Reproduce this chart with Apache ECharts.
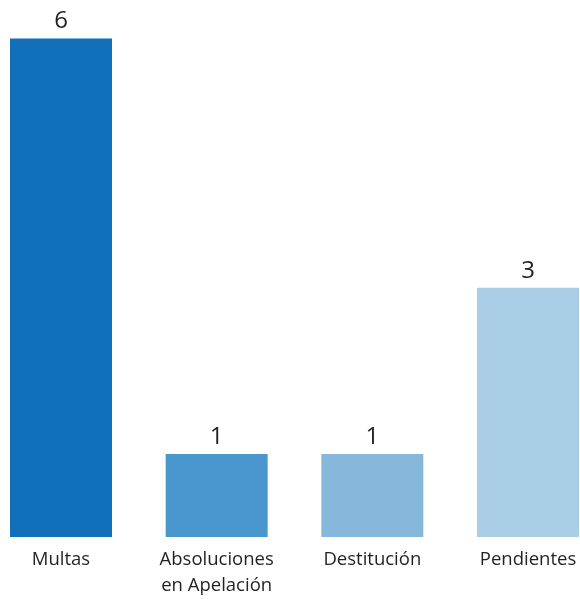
<!DOCTYPE html>
<html>
<head>
<meta charset="utf-8">
<script src="https://cdn.jsdelivr.net/npm/echarts@6/dist/echarts.min.js"></script>
<style>
  html, body { margin: 0; padding: 0; background: #ffffff; }
  #chart { width: 580px; height: 599px; }
</style>
</head>
<body>
<div id="chart"></div>
<script>
// Resolution outcomes
const categories = ['Multas', 'Absoluciones\nen Apelación', 'Destitución', 'Pendientes'];
const counts = [6, 1, 1, 3];
const barColors = ['#1170b9', '#4a96cf', '#86b8dc', '#aacee6'];

const chart = echarts.init(document.getElementById('chart'));
chart.setOption({
  animation: false,
  backgroundColor: '#ffffff',
  grid: { left: 61, right: 52, top: 38.5, bottom: 61, containLabel: false },
  xAxis: {
    type: 'category',
    data: categories,
    boundaryGap: false,
    axisLine: { show: false },
    axisTick: { show: false },
    axisLabel: {
      interval: 0,
      margin: 10,
      color: '#231f20',
      fontFamily: 'Open Sans',
      fontSize: 18.5,
      lineHeight: 26
    }
  },
  yAxis: {
    type: 'value',
    min: 0,
    max: 6,
    show: false,
    splitLine: { show: false }
  },
  series: [{
    type: 'bar',
    data: counts.map((v, i) => ({ value: v, itemStyle: { color: barColors[i] } })),
    barWidth: 102,
    label: {
      show: true,
      position: 'top',
      distance: 5,
      color: '#231f20',
      fontFamily: 'Open Sans',
      fontSize: 24
    }
  }]
});
</script>
</body>
</html>
